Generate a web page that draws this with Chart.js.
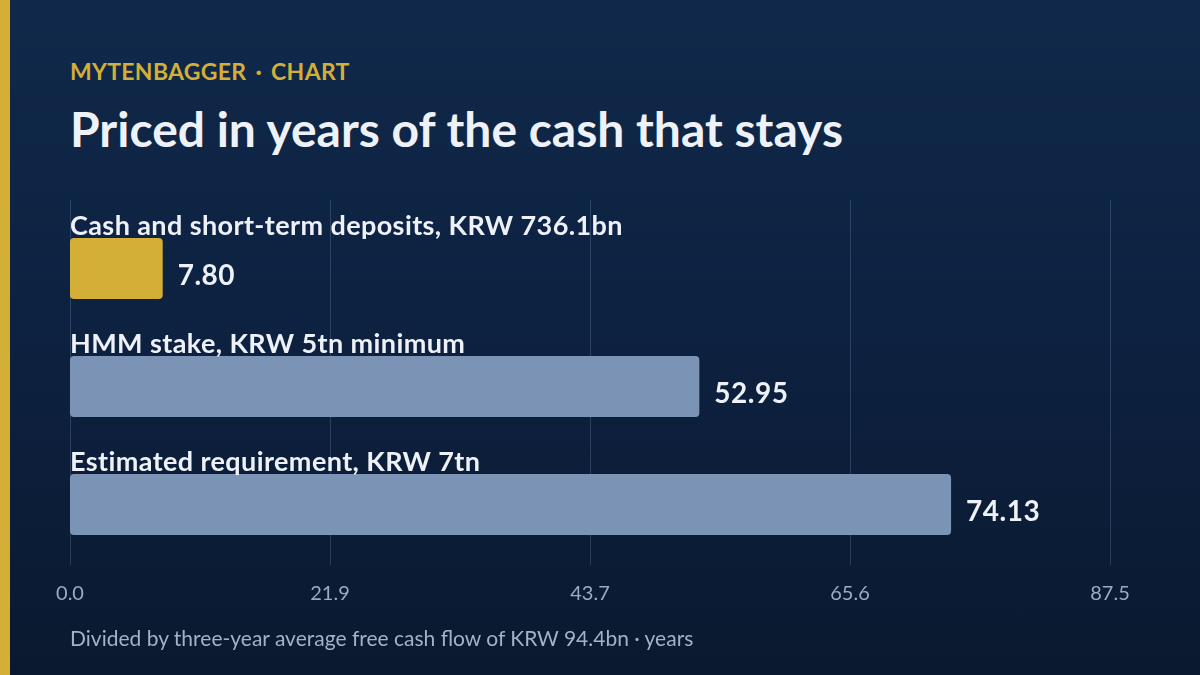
<!DOCTYPE html>
<html>
<head>
<meta charset="utf-8">
<script src="https://cdn.jsdelivr.net/npm/chart.js@4/dist/chart.umd.min.js"></script>
<style>
  html, body { margin: 0; padding: 0; }
  body {
    width: 1200px; height: 675px; overflow: hidden; position: relative;
    background: linear-gradient(180deg, #10294a 0%, #0d2140 50%, #0a192f 100%);
    font-family: Lato, "Noto Sans", sans-serif;
  }
  .stripe { position: absolute; left: 0; top: 0; width: 10px; height: 675px; background: #d4af37; }
  .kicker { position: absolute; left: 70px; top: 57px; font-size: 23px; font-weight: 700; color: #d4af37; letter-spacing: 0.3px; }
  .kicker span { margin: 0 9px; }
  .title { position: absolute; left: 70px; top: 100px; font-size: 48px; font-weight: 700; color: #eef2f8; }
  .note { position: absolute; left: 70px; top: 625px; font-size: 21px; color: #a3b2c8; }
  #wrap { position: absolute; left: 0; top: 0; width: 1200px; height: 675px; }
</style>
</head>
<body>
<div class="stripe"></div>
<div class="kicker">MYTENBAGGER<span>·</span>CHART</div>
<div class="title">Priced in years of the cash that stays</div>
<div id="wrap"><canvas id="chart"></canvas></div>
<div class="note">Divided by three-year average free cash flow of KRW 94.4bn · years</div>
<script>
// Chart data
const categories = [
    "Cash and short-term deposits, KRW 736.1bn",
    "HMM stake, KRW 5tn minimum",
    "Estimated requirement, KRW 7tn"
];
const yearsValues = [7.80, 52.95, 74.13];
const barColors = ["#d4af37", "#7b93b5", "#7b93b5"];
const tickLabels = ["0.0", "21.9", "43.7", "65.6", "87.5"];
const axisMax = 87.5;
const axisStep = 21.875;

const FONT = 'Lato, "Noto Sans", sans-serif';

// Vertical grid lines, drawn taller than the plot area
const gridPlugin = {
    id: "grid",
    beforeDatasetsDraw(chart) {
        const ctx = chart.ctx;
        const x = chart.scales.x;
        ctx.save();
        ctx.strokeStyle = "rgba(120, 150, 190, 0.28)";
        ctx.lineWidth = 1;
        x.ticks.forEach(t => {
            const px = Math.round(x.getPixelForValue(t.value)) + 0.5;
            ctx.beginPath();
            ctx.moveTo(px, 200);
            ctx.lineTo(px, 565);
            ctx.stroke();
        });
        ctx.restore();
    }
};

// Category labels above bars and values at bar ends
const labelPlugin = {
    id: "labels",
    afterDatasetsDraw(chart) {
        const ctx = chart.ctx;
        const meta = chart.getDatasetMeta(0);
        ctx.save();
        ctx.textAlign = "left";
        ctx.textBaseline = "alphabetic";
        meta.data.forEach((bar, i) => {
            const top = bar.y - bar.height / 2;
            ctx.fillStyle = "#eef2f8";
            ctx.font = "700 27px " + FONT;
            ctx.letterSpacing = "0.4px";
            ctx.fillText(categories[i], chart.chartArea.left, top - 3);

            ctx.font = "700 28px " + FONT;
            ctx.letterSpacing = "0.5px";
            ctx.fillText(yearsValues[i].toFixed(2), bar.x + 15, bar.y + 16.5);
        });
        ctx.restore();
    }
};

new Chart(document.getElementById("chart"), {
    type: "bar",
    data: {
        labels: categories,
        datasets: [{
            data: yearsValues,
            backgroundColor: barColors,
            borderRadius: 4,
            borderSkipped: false,
            categoryPercentage: 1,
            barPercentage: 0.517
        }]
    },
    options: {
        indexAxis: "y",
        responsive: true,
        maintainAspectRatio: false,
        animation: false,
        layout: {
            padding: { left: 70, right: 90, top: 209.5, bottom: 0 }
        },
        plugins: {
            legend: { display: false },
            tooltip: { enabled: false }
        },
        scales: {
            x: {
                min: 0,
                max: axisMax,
                border: { display: false },
                grid: { display: false, drawTicks: false },
                ticks: {
                    stepSize: axisStep,
                    padding: 18,
                    color: "#9aabc4",
                    font: { family: FONT, size: 20 },
                    callback: (v, i) => tickLabels[i]
                },
                afterFit(scale) { scale.height = 111.5; }
            },
            y: {
                display: false
            }
        }
    },
    plugins: [gridPlugin, labelPlugin]
});
</script>
</body>
</html>
